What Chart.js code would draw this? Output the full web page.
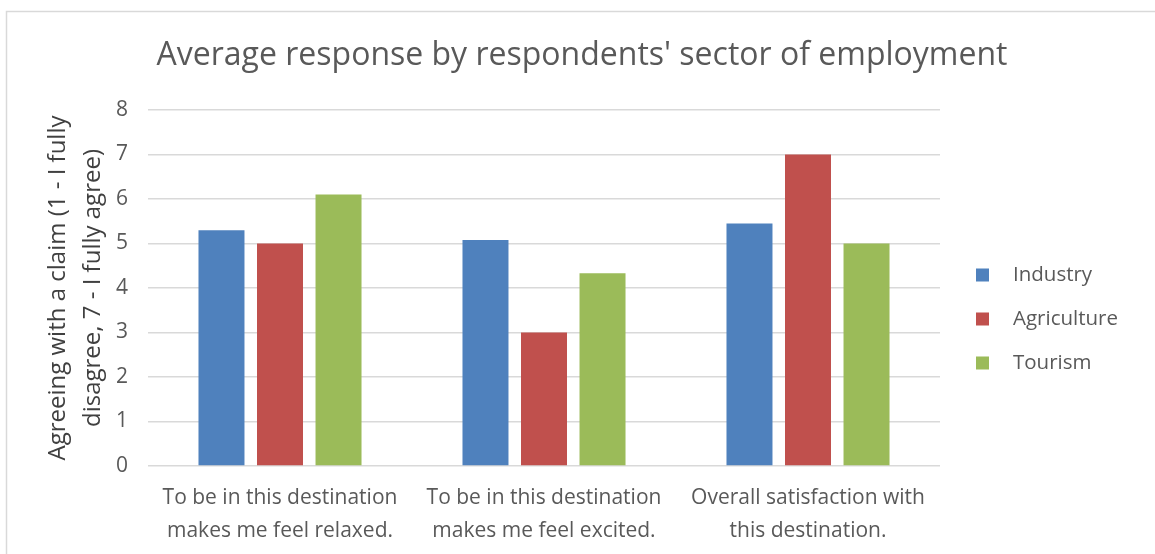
<!DOCTYPE html>
<html>
<head>
<meta charset="utf-8">
<script src="https://cdn.jsdelivr.net/npm/chart.js@4.4.1/dist/chart.umd.min.js"></script>
<style>
  html, body { margin: 0; padding: 0; background: #fff; overflow: hidden; }
  canvas { display: block; }
</style>
</head>
<body>
<canvas id="chart" width="1155" height="554"></canvas>
<script>
// Survey statements (category axis), one label line per array entry
const categories = [
  ['To be in this destination', 'makes me feel relaxed.'],
  ['To be in this destination', 'makes me feel excited.'],
  ['Overall satisfaction with', 'this destination.']
];

// Average response per sector
const industry    = [5.30, 5.08, 5.45];
const agriculture = [5.00, 3.00, 7.00];
const tourism     = [6.10, 4.33, 5.00];

const seriesNames  = ['Industry', 'Agriculture', 'Tourism'];
const seriesColors = ['#4F81BD', '#C0504D', '#9BBB59'];

const yTicks = [0, 1, 2, 3, 4, 5, 6, 7, 8];

const chartTitle = "Average response by respondents' sector of employment";
const yTitle = ['Agreeing with a claim (1 - I fully', 'disagree, 7 - I fully agree)'];

const FONT = "'Open Sans', 'DejaVu Sans', sans-serif";

// Light frame around the whole chart, running off the right and bottom edges
const framePlugin = {
  id: 'frame',
  beforeDraw(chart) {
    const ctx = chart.ctx;
    ctx.save();
    ctx.fillStyle = '#ffffff';
    ctx.fillRect(0, 0, chart.width, chart.height);
    ctx.strokeStyle = '#d9d9d9';
    ctx.lineWidth = 1.5;
    ctx.strokeRect(6.5, 11.5, chart.width + 20, chart.height + 20);
    ctx.restore();
  }
};

// Vertical legend in the right-hand gutter: square swatch followed by the series name
const sideLegend = {
  id: 'sideLegend',
  afterDraw(chart) {
    const ctx = chart.ctx;
    const mid = (chart.chartArea.top + chart.chartArea.bottom) / 2;
    const gap = 44;
    const ds = chart.data.datasets;
    ctx.save();
    ctx.font = '20.5px ' + FONT;
    ctx.textBaseline = 'middle';
    ctx.textAlign = 'left';
    ds.forEach((d, i) => {
      const cy = mid + (i - (ds.length - 1) / 2) * gap + 31;
      ctx.fillStyle = d.backgroundColor;
      ctx.fillRect(976, cy - 6.5, 13, 13);
      ctx.fillStyle = '#595959';
      ctx.fillText(d.label, 1013, cy);
    });
    ctx.restore();
  }
};

new Chart(document.getElementById('chart'), {
  type: 'bar',
  data: {
    labels: categories,
    datasets: [
      { label: seriesNames[0], data: industry,    backgroundColor: seriesColors[0] },
      { label: seriesNames[1], data: agriculture, backgroundColor: seriesColors[1] },
      { label: seriesNames[2], data: tourism,     backgroundColor: seriesColors[2] }
    ]
  },
  options: {
    responsive: false,
    devicePixelRatio: 1,
    animation: false,
    layout: { padding: { left: 9, right: 0, top: 0, bottom: 0 } },
    datasets: {
      bar: { categoryPercentage: 0.665, barPercentage: 0.786 }
    },
    plugins: {
      legend: { display: false },
      tooltip: { enabled: false },
      title: {
        display: true,
        text: chartTitle,
        color: '#595959',
        font: { family: FONT, size: 32, weight: 'normal', lineHeight: 1.2 },
        padding: { top: 37, bottom: 34.6 }
      }
    },
    scales: {
      x: {
        grid: { display: false, drawTicks: false },
        border: { display: false },
        ticks: {
          color: '#595959',
          padding: 16,
          font: { family: FONT, size: 21, lineHeight: 1.57 },
          maxRotation: 0,
          autoSkip: false
        },
        afterFit(scale) { scale.height = 88; }
      },
      y: {
        min: 0,
        max: 8,
        afterBuildTicks(scale) { scale.ticks = yTicks.map(v => ({ value: v })); },
        grid: { color: '#d9d9d9', lineWidth: 1.5, drawTicks: false },
        border: { display: false },
        ticks: {
          color: '#595959',
          padding: 20,
          font: { family: FONT, size: 21 }
        },
        title: {
          display: true,
          text: yTitle,
          color: '#404040',
          font: { family: FONT, size: 24, weight: 'normal', lineHeight: 1.46 },
          padding: { top: 31.5, bottom: 0 }
        },
        afterFit(scale) { scale.width = 139; }
      },
      // empty right-hand gutter that holds the legend
      gutter: {
        type: 'linear',
        position: 'right',
        display: true,
        grid: { display: false, drawTicks: false },
        border: { display: false },
        ticks: { display: false },
        afterFit(scale) { scale.width = 215; }
      }
    }
  },
  plugins: [framePlugin, sideLegend]
});
</script>
</body>
</html>
